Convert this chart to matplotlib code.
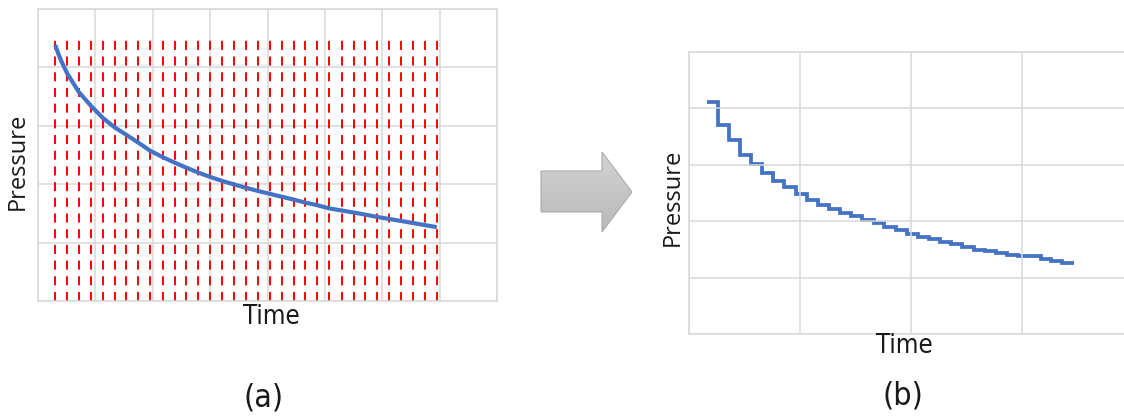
import numpy as np
import matplotlib
matplotlib.use('Agg')
from matplotlib import pyplot as plt
from matplotlib.patches import Polygon
from matplotlib.colors import LinearSegmentedColormap

# sampling instants (red dashed lines), time in grid-column units of panel (a)
sample_t = [0.30, 0.51, 0.71, 0.92, 1.13, 1.34, 1.54, 1.75, 1.96, 2.17, 2.38,
            2.58, 2.79, 3.00, 3.21, 3.42, 3.62, 3.83, 4.04, 4.25, 4.46, 4.66,
            4.87, 5.08, 5.29, 5.50, 5.70, 5.91, 6.12, 6.33, 6.54, 6.74, 6.95]
step_end = 7.16

# continuous pressure decay, panel (a)
curve_t = [0.30, 0.35, 0.41] + sample_t[1:]
curve_p = [87.7, 84.9, 82.0, 77.9, 71.6, 66.9, 62.7, 59.4, 56.9, 54.2, 51.4,
           49.3, 47.4, 45.7, 44.0, 42.5, 41.1, 39.9, 38.8, 37.7, 36.7, 35.7,
           34.7, 33.7, 32.8, 31.7, 31.0, 30.3, 29.6, 28.8, 28.1, 27.4, 26.7,
           26.0, 25.3]

# sampled-and-held pressure, panel (b)
held_p = [82.2, 74.0, 68.7, 63.4, 60.4, 57.2, 54.2, 52.2, 49.8, 47.5, 45.9,
          44.2, 42.8, 41.8, 40.4, 39.4, 38.0, 36.9, 35.4, 34.5, 33.6, 32.5,
          31.8, 31.0, 30.0, 29.4, 28.6, 28.0, 27.8, 27.8, 26.6, 25.9, 25.1]

W, H = 1124, 420
blue = '#4472C4'
grid_c = '#d9d9d9'

plt.rcParams['lines.scale_dashes'] = False
fig = plt.figure(figsize=(W / 100, H / 100), dpi=100)


def px_axes(x0, y0, x1, y1):
    return fig.add_axes([x0 / W, 1 - y1 / H, (x1 - x0) / W, (y1 - y0) / H])


def style(ax, xt):
    ax.set_xticks(xt)
    ax.set_yticks(np.arange(0, 101, 20))
    ax.grid(True, color=grid_c, lw=1.1)
    ax.tick_params(length=0, labelbottom=False, labelleft=False)
    for s in ax.spines.values():
        s.set_color(grid_c)
        s.set_linewidth(1.1)
    ax.set_ylim(0, 100)


# panel (a)
ax1 = px_axes(38, 9, 497, 301)
ax1.set_xlim(0, 8)
style(ax1, np.arange(0, 9))
ax1.vlines(sample_t, 0, 89.5, colors='red', lw=1.4, linestyles=[(0, (6.5, 4.8))])
ax1.plot(curve_t, curve_p, color=blue, lw=3.0, solid_capstyle='butt')

# panel (b)
ax2 = px_axes(689.3, 51.7, 1132.3, 334.3)
x0, x1 = -0.025, 8.255
ax2.set_xlim(x0, x1)
style(ax2, np.linspace(x0, x1, 5))
ax2.stairs(held_p, sample_t + [step_end], baseline=None, color=blue, lw=2.7)

# overlay in pixel coordinates for labels and arrow
ov = fig.add_axes([0, 0, 1, 1], zorder=5)
ov.set_xlim(0, W)
ov.set_ylim(H, 0)
ov.axis('off')

arrow = Polygon([(541, 171), (602, 171), (602, 152), (632, 192), (602, 232),
                 (602, 212), (541, 212)], closed=True, facecolor='none',
                edgecolor='#ababab', lw=0.8)
ov.add_patch(arrow)
cm = LinearSegmentedColormap.from_list('g', ['#d4d4d4', '#c6c6c6', '#b8b8b8'])
grad = np.linspace(0, 1, 100).reshape(-1, 1)
im = ov.imshow(grad, cmap=cm, extent=(541, 632, 232, 152), aspect='auto')
im.set_clip_path(arrow)

lab = dict(family=['Open Sans', 'DejaVu Sans'], fontsize=17, color='#1a1a1a')
narrow = dict(family=['DejaVu Sans'], stretch='condensed', color='#1a1a1a')
ov.text(18, 161, 'Pressure', rotation=90, ha='center', va='center', **lab)
ov.text(673, 197, 'Pressure', rotation=90, ha='center', va='center', **lab)
ov.text(271, 317, 'Time', ha='center', va='center', fontsize=18.5, **narrow)
ov.text(904, 346, 'Time', ha='center', va='center', fontsize=18.5, **narrow)
ov.text(264, 398, '(a)', ha='center', va='center', fontsize=23, **narrow)
ov.text(903, 396, '(b)', ha='center', va='center', fontsize=23, **narrow)

fig.savefig('out.png', dpi=100)
